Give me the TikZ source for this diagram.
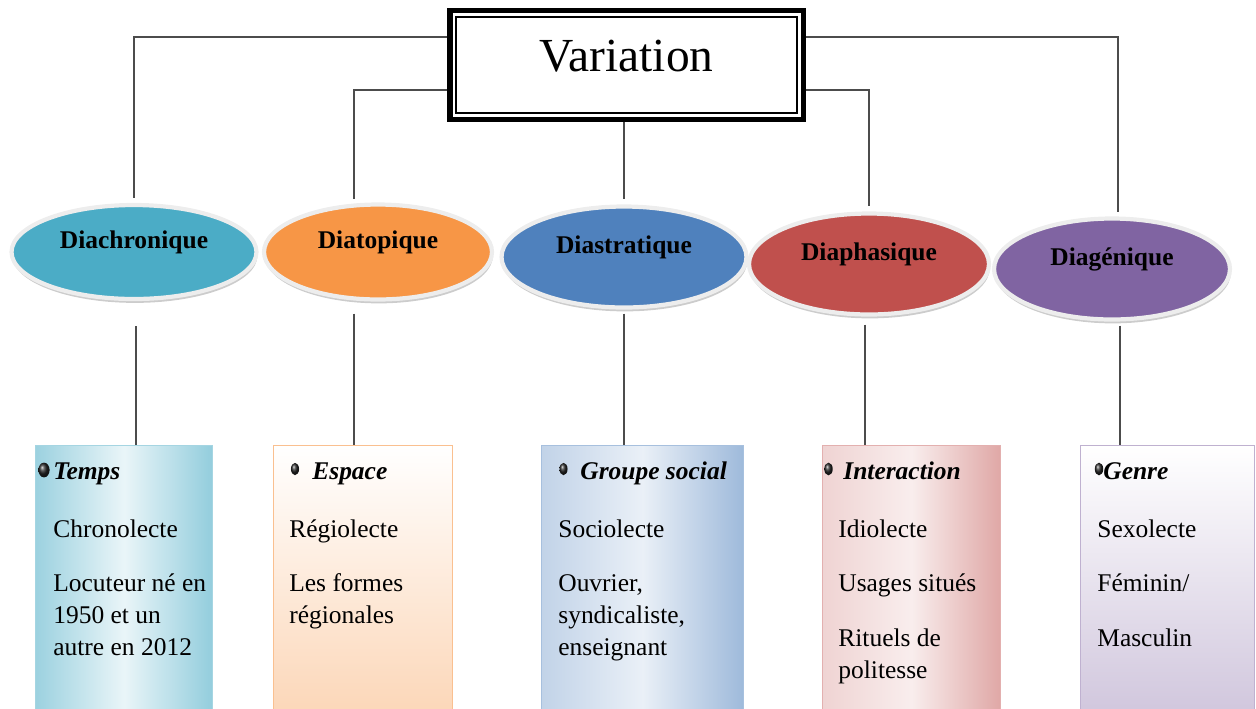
\documentclass[tikz,border=0pt]{standalone}
\usepackage{fontspec}
\setmainfont{Liberation Serif}
\usetikzlibrary{calc, shapes.geometric, shadows}

\definecolor{cteal}{HTML}{4BACC6}
\definecolor{corange}{HTML}{F79646}
\definecolor{cblue}{HTML}{4F81BD}
\definecolor{cred}{HTML}{C0504D}
\definecolor{cpurple}{HTML}{8064A2}

\begin{document}
\begin{tikzpicture}[x = 0.02cm, y = -0.02cm,
    conn/.style = {draw = black!70, line width = 0.8pt},
    dia/.style = {ellipse, draw = white!93!black, line width = 2.4pt, inner sep = 0pt,
      font = \fontsize{14.5}{16}\selectfont\bfseries, text height = 0.33cm, text depth = 0.48cm,
      drop shadow = {shadow xshift = 0.5pt, shadow yshift = -2.2pt, opacity = 0.4, fill = black!50}},
    card/.style = {rectangle, anchor = north west, inner sep = 0pt, minimum height = 5.6cm, line width = 0.7pt},
    cardtext/.style = {anchor = north west, inner sep = 0pt, text width = 3.7cm, align = flush left,
      font = \fontsize{14.5}{18.2}\selectfont},
    bul/.style = {ball color = black!85}]
  \useasboundingbox (0,0) rectangle (1256,708);

  % top box
  \node[draw, line width = 3.1pt, minimum width = 7.07cm, minimum height = 2.17cm,
        font = \fontsize{27}{30}\selectfont, text height = 0.63cm, text depth = 0.36cm] (var) at (626.5,65) {Variation};
  \draw[line width = 0.8pt] ($(var.north west)+(9,9)$) rectangle ($(var.south east)+(-9,-9)$);

  % ellipses
  \node[dia, fill = cteal,   minimum width = 4.9cm,  minimum height = 1.88cm] (diachr)  at (134,252)  {Diachronique};
  \node[dia, fill = corange, minimum width = 4.56cm, minimum height = 1.9cm]  (diatop)  at (378,252)  {Diatopique};
  \node[dia, fill = cblue,   minimum width = 4.9cm,  minimum height = 2.02cm] (diastr)  at (624,257)  {Diastratique};
  \node[dia, fill = cred,    minimum width = 4.8cm,  minimum height = 2.02cm] (diaphas) at (869,264)  {Diaphasique};
  \node[dia, fill = cpurple, minimum width = 4.72cm, minimum height = 2.02cm] (diagen)  at (1112,269) {Diagénique};

  % cards
  \node[card, draw = cteal!50, left color = cteal!55, right color = cteal!60, middle color = cteal!12,
        minimum width = 3.54cm] (temps) at (35,445) {};
  \node[card, draw = corange!60, top color = white, bottom color = corange!40,
        minimum width = 3.58cm] (espace) at (273,445) {};
  \node[card, draw = cblue!50, left color = cblue!35, right color = cblue!55, middle color = cblue!12,
        minimum width = 4.04cm] (groupe) at (541,445) {};
  \node[card, draw = cred!45, left color = cred!25, right color = cred!50, middle color = cred!10,
        minimum width = 3.56cm] (interac) at (822,445) {};
  \node[card, draw = cpurple!50, top color = white, bottom color = cpurple!38,
        minimum width = 3.48cm] (genre) at (1080,445) {};

  \node[cardtext] (temps-t) at ($(temps.north west)+(18,11.5)$)
    {\strut\textbf{\textit{Temps}}\\[14.7pt] Chronolecte\\[13pt] Locuteur né en\\ 1950 et un\\ autre en 2012};
  \node[cardtext] (espace-t) at ($(espace.north west)+(16,11.5)$)
    {\strut\hspace*{0.46cm}\textbf{\textit{Espace}}\\[14.7pt] Régiolecte\\[13pt] Les formes\\ régionales};
  \node[cardtext] (groupe-t) at ($(groupe.north west)+(17,11.5)$)
    {\strut\hspace*{0.44cm}\textbf{\textit{Groupe social}}\\[14.7pt] Sociolecte\\[13pt] Ouvrier,\\ syndicaliste,\\ enseignant};
  \node[cardtext] (interac-t) at ($(interac.north west)+(16,11.5)$)
    {\strut\hspace*{0.1cm}\textbf{\textit{Interaction}}\\[14.7pt] Idiolecte\\[13pt] Usages situés\\[13pt] Rituels de\\ politesse};
  \node[cardtext] (genre-t) at ($(genre.north west)+(17,11.5)$)
    {\strut\hspace*{0.12cm}\textbf{\textit{Genre}}\\[14.7pt] Sexolecte\\[13pt] Féminin/\\[13pt] Masculin};

  % bullets
  \shade[bul] ($(temps-t.north west)+(-9,13.5)$) ellipse (3.2pt and 4.2pt);
  \shade[bul] ($(espace-t.north west)+(6,12.5)$) ellipse (2.3pt and 3.5pt);
  \shade[bul] ($(groupe-t.north west)+(5.5,12.5)$) ellipse (2.3pt and 3.5pt);
  \shade[bul] ($(interac-t.north west)+(-9.5,12.5)$) ellipse (2.4pt and 3.6pt);
  \shade[bul] ($(genre-t.north west)+(2,12.5)$) ellipse (2.4pt and 3.6pt);

  % from the top box to the ellipses
  \coordinate (dtop) at ($(diatop.north)+(-24,2)$);
  \coordinate (dgtop) at ($(diagen.north)+(6,1)$);
  \draw[conn, shorten >= 3pt] ($(var.north west)+(0,29)$) -| (diachr.north);
  \draw[conn, shorten >= 3pt] ($(var.north west)+(0,82)$) -| (dtop);
  \draw[conn, shorten >= 3pt] (var.south -| diastr.north) -- (diastr.north);
  \draw[conn, shorten >= 3pt] ($(var.north east)+(0,82)$) -| (diaphas.north);
  \draw[conn, shorten >= 3pt] ($(var.north east)+(0,29)$) -| (dgtop);

  % from the ellipses to the cards
  \coordinate (dcbot) at ($(diachr.south)+(2,25)$);
  \coordinate (dtbot) at ($(diatop.south)+(-24,12)$);
  \coordinate (dsbot) at ($(diastr.south)+(0,4)$);
  \coordinate (dpbot) at ($(diaphas.south)+(-4,8)$);
  \coordinate (dgbot) at ($(diagen.south)+(8,4)$);
  \draw[conn] (dcbot) -- (dcbot |- temps.north);
  \draw[conn] (dtbot) -- (dtbot |- espace.north);
  \draw[conn] (dsbot) -- (dsbot |- groupe.north);
  \draw[conn] (dpbot) -- (dpbot |- interac.north);
  \draw[conn] (dgbot) -- (dgbot |- genre.north);
\end{tikzpicture}
\end{document}
